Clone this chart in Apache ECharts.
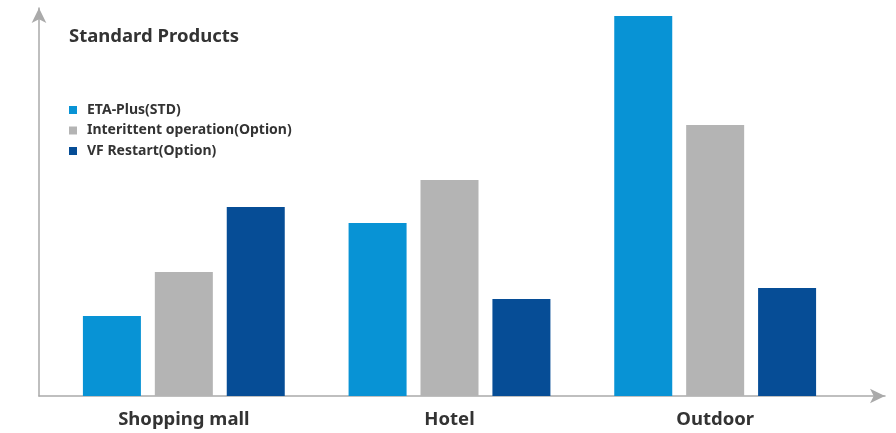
<!DOCTYPE html>
<html>
<head>
<meta charset="utf-8">
<style>html,body{margin:0;padding:0;background:#fff;}#c{width:896px;height:433px;}</style>
<script src="https://cdn.jsdelivr.net/npm/echarts@6/dist/echarts.min.js"></script>
</head>
<body>
<div id="c"></div>
<script>
const categories = ['Shopping mall', 'Hotel', 'Outdoor'];
const seriesNames = ['ETA-Plus(STD)', 'Interittent operation(Option)', 'VF Restart(Option)'];
const etaPlus = [80, 173, 380];
const intermittent = [124, 216, 271];
const vfRestart = [189, 97, 108];
const colors = ['#0893D5', '#B4B4B4', '#064D96'];

const chart = echarts.init(document.getElementById('c'));
const font = '"Noto Sans", sans-serif';
const dataSets = [etaPlus, intermittent, vfRestart];
chart.setOption({
  animation: false,
  backgroundColor: '#fff',
  title: {
    text: 'Standard Products', left: 64, top: 22,
    textStyle: { fontFamily: font, fontSize: 18.5, fontWeight: 'bold', color: '#333' }
  },
  legend: {
    orient: 'vertical', left: 64, top: 98, itemWidth: 8, itemHeight: 8, itemGap: 6.5,
    icon: 'rect',
    textStyle: { fontFamily: font, fontSize: 14, fontWeight: 'bold', color: '#333', padding: [0, 0, 0, 5] },
    data: seriesNames
  },
  grid: [
    { left: 51, right: 48, top: 16, bottom: 37 },
    { left: 39, right: 11, top: 8, bottom: 37 }
  ],
  xAxis: [
    {
      type: 'category', gridIndex: 0, data: categories,
      axisLine: { show: false }, axisTick: { show: false },
      axisLabel: { margin: 14, fontFamily: font, fontSize: 18.5, fontWeight: 'bold', color: '#333' }
    },
    {
      type: 'value', gridIndex: 1, min: 0, max: 1,
      axisLine: { show: true, onZero: false, symbol: ['none', 'arrow'], symbolSize: [11, 15], lineStyle: { color: '#AAAAAA', width: 1.5 } },
      axisTick: { show: false }, axisLabel: { show: false }, splitLine: { show: false }
    }
  ],
  yAxis: [
    {
      type: 'value', gridIndex: 0, min: 0, max: 380,
      axisLine: { show: false }, axisTick: { show: false }, axisLabel: { show: false }, splitLine: { show: false }
    },
    {
      type: 'value', gridIndex: 1, min: 0, max: 1,
      axisLine: { show: true, onZero: false, symbol: ['none', 'arrow'], symbolSize: [11, 15], lineStyle: { color: '#AAAAAA', width: 1.5 } },
      axisTick: { show: false }, axisLabel: { show: false }, splitLine: { show: false }
    }
  ],
  series: seriesNames.map((n, i) => ({
    name: n, type: 'bar', xAxisIndex: 0, yAxisIndex: 0,
    data: dataSets[i], barWidth: 58, barGap: '24%',
    itemStyle: { color: colors[i] }
  }))
});
</script>
</body>
</html>
